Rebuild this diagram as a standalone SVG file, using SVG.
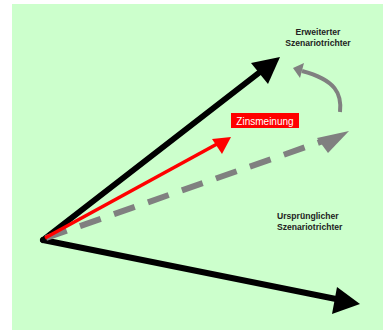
<svg xmlns="http://www.w3.org/2000/svg" width="383" height="331" viewBox="0 0 383 331">
<style>
.lbl{font-family:"Liberation Sans",Arial,sans-serif;font-size:8.6px;font-weight:bold;fill:#222}
.tag{font-family:"Liberation Sans",Arial,sans-serif;font-size:10px;fill:#fff}
</style>
<rect x="0" y="0" width="383" height="331" fill="#fff"/>
<rect x="12" y="4" width="371" height="326" fill="#ccffcc"/>
<g id="connectors">
<g id="upper">
<line x1="43" y1="240" x2="260" y2="72" stroke="#000" stroke-width="6" stroke-linecap="round"/>
<polygon points="280,57 268,84 251,63" fill="#000"/>
</g>
<g id="lower">
<line x1="43" y1="240" x2="336" y2="299" stroke="#000" stroke-width="6" stroke-linecap="round"/>
<polygon points="360,304 332,314 337,287" fill="#000"/>
</g>
<g id="dashed">
<line x1="46" y1="238" x2="323" y2="141" stroke="#808080" stroke-width="6" stroke-dasharray="22 14"/>
<polygon points="349,131 328,153 317,138" fill="#808080"/>
</g>
<g id="red">
<line x1="45" y1="238" x2="217" y2="144" stroke="#ff0000" stroke-width="3.5"/>
<polygon points="231,137 222,154 212,139" fill="#ff0000"/>
</g>
<g id="curve">
<path d="M340,112 C342,94 336,80 302,71" fill="none" stroke="#808080" stroke-width="4"/>
<polygon points="293,68 304,63 300,78" fill="#808080"/>
</g>
</g>
<g id="zins">
<rect x="231" y="113" width="68" height="15" fill="#ff0000"/>
<text class="tag" x="265" y="124.5" text-anchor="middle">Zinsmeinung</text>
</g>
<g id="erweitert">
<text class="lbl" x="318" y="35" text-anchor="middle">Erweiterter</text>
<text class="lbl" x="318" y="46" text-anchor="middle">Szenariotrichter</text>
</g>
<g id="urspr">
<text class="lbl" x="277" y="218.5">Ursprünglicher</text>
<text class="lbl" x="277" y="229.5">Szenariotrichter</text>
</g>
</svg>
